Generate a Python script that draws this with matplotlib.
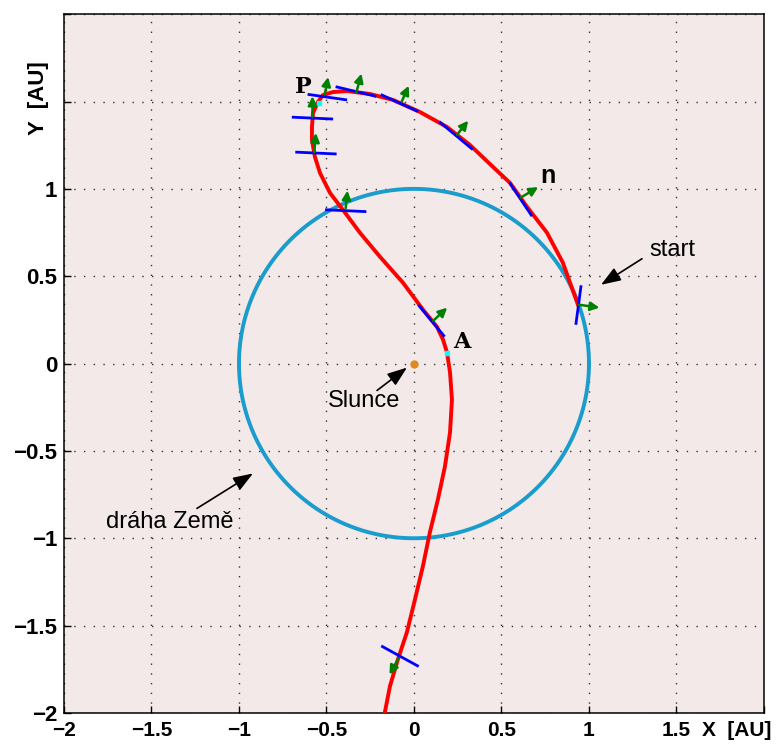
import numpy as np
import matplotlib.pyplot as plt

# trajectory of the probe (AU), in flight order: start -> P -> A -> out
traj_x = [0.937, 0.851, 0.760, 0.646, 0.549, 0.451, 0.320, 0.189, 0.034, -0.120,
          -0.251, -0.383, -0.463, -0.520, -0.549, -0.577, -0.583, -0.583, -0.566,
          -0.537, -0.480, -0.406, -0.309, -0.194, -0.063, 0.051, 0.131, 0.166,
          0.189, 0.206, 0.217, 0.206, 0.177, 0.137, 0.091, 0.051, 0.006, -0.040,
          -0.091, -0.137, -0.166]
traj_y = [0.337, 0.577, 0.749, 0.897, 1.034, 1.126, 1.251, 1.354, 1.440, 1.509,
          1.543, 1.560, 1.554, 1.537, 1.497, 1.434, 1.354, 1.280, 1.183,
          1.091, 0.977, 0.880, 0.749, 0.611, 0.463, 0.309, 0.211, 0.137,
          0.063, -0.051, -0.206, -0.394, -0.589, -0.777, -0.966, -1.160, -1.349, -1.537,
          -1.691, -1.846, -1.994]

# sail orientation segments (x0, y0, x1, y1)
sail_x0 = [0.954, 0.55, 0.15, -0.183, -0.44, -0.60, -0.69, -0.67, -0.50, 0.03, -0.18]
sail_y0 = [0.44, 1.03, 1.38, 1.537, 1.583, 1.54, 1.41, 1.21, 0.88, 0.33, -1.62]
sail_x1 = [0.926, 0.67, 0.33, 0.017, -0.223, -0.39, -0.47, -0.45, -0.28, 0.17, 0.02]
sail_y1 = [0.23, 0.85, 1.23, 1.446, 1.531, 1.51, 1.40, 1.20, 0.87, 0.16, -1.73]

# normal vectors n (base and tip)
norm_x0 = [0.94, 0.61, 0.246, -0.07, -0.33, -0.51, -0.58, -0.57, -0.39, 0.11, -0.09]
norm_y0 = [0.337, 0.95, 1.31, 1.50, 1.55, 1.54, 1.41, 1.21, 0.89, 0.245, -1.69]
norm_x1 = [1.06, 0.71, 0.31, -0.03, -0.30, -0.49, -0.58, -0.56, -0.38, 0.19, -0.14]
norm_y1 = [0.32, 1.01, 1.39, 1.59, 1.66, 1.64, 1.53, 1.32, 0.99, 0.32, -1.78]

ticks = [-2, -1.5, -1, -0.5, 0, 0.5, 1, 1.5, 2]
xlabels = ['\u22122', '\u22121.5', '\u22121', '\u22120.5', '0', '0.5', '1', '1.5', '']
ylabels = ['\u22122', '\u22121.5', '\u22121', '\u22120.5', '0', '0.5', '1', '', '']

plt.rcParams['font.family'] = ['Liberation Sans', 'DejaVu Sans']

fig = plt.figure(figsize=(7.83, 7.45), dpi=100)
ax = fig.add_axes([0.0817, 0.043, 0.894, 0.938])
ax.set_facecolor('#f3e9e9')

# Earth orbit
t = np.linspace(0, 2 * np.pi, 400)
ax.plot(np.cos(t), np.sin(t), color='#1a9ccc', lw=2.8, zorder=2)

# trajectory
ax.plot(traj_x, traj_y, color='red', lw=2.8, zorder=3,
        solid_joinstyle='round')

for i in range(len(sail_x0)):
    ax.plot([sail_x0[i], sail_x1[i]], [sail_y0[i], sail_y1[i]],
            color='blue', lw=2.0, zorder=4)
    ax.annotate('', xy=(norm_x1[i], norm_y1[i]), xytext=(norm_x0[i], norm_y0[i]),
                arrowprops=dict(arrowstyle='-|>', color='green', lw=1.8,
                                mutation_scale=13, shrinkA=0, shrinkB=0),
                zorder=5)

# Sun, perihelion and aphelion markers
ax.plot([0], [0], 'o', color='#e08a1e', ms=5, zorder=6)
ax.plot([-0.54], [1.49], 's', color='cyan', ms=3, zorder=6)
ax.plot([0.19], [0.06], 's', color='cyan', ms=3, zorder=6)

ax.text(-0.634, 1.583, 'P', fontsize=16, fontweight='bold',
        family='DejaVu Serif', ha='center', va='center')
ax.text(0.276, 0.124, 'A', fontsize=16, fontweight='bold',
        family='DejaVu Serif', ha='center', va='center')
ax.text(0.763, 1.071, 'n', fontsize=18, fontweight='bold', ha='center', va='center')

arrow = dict(arrowstyle='-|>,head_length=0.6,head_width=0.22', color='black',
             lw=1.2, mutation_scale=20, shrinkA=0, shrinkB=0)
ax.annotate('', xy=(1.069, 0.451), xytext=(1.303, 0.600), arrowprops=arrow)
ax.annotate('', xy=(-0.040, -0.023), xytext=(-0.211, -0.154), arrowprops=arrow)
ax.annotate('', xy=(-0.920, -0.629), xytext=(-1.240, -0.829), arrowprops=arrow)
ax.text(1.474, 0.617, 'start', fontsize=17, ha='center', va='baseline')
ax.text(-0.286, -0.251, 'Slunce', fontsize=17, ha='center', va='baseline')
ax.text(-1.394, -0.943, 'dr\u00e1ha Zem\u011b', fontsize=17, ha='center', va='baseline')

ax.set_xlim(-2, 2)
ax.set_ylim(-2, 2)
ax.set_xticks(ticks)
ax.set_yticks(ticks)
ax.set_xticklabels(xlabels, fontsize=15, fontweight='bold')
ax.set_yticklabels(ylabels, fontsize=16, fontweight='bold')
ax.tick_params(direction='in', length=5, width=1)
ax.tick_params(axis='x', pad=6)
ax.tick_params(axis='y', pad=5)
ax.grid(True, color='#333333', linestyle=(0, (1, 6)), lw=1.0)
for s in ax.spines.values():
    s.set_linewidth(1.1)

ax.text(1.646, -2.1, 'X  [AU]', fontsize=15, fontweight='bold',
        ha='left', va='center')
ax.text(-2.143, 1.52, 'Y  [AU]', fontsize=16, fontweight='bold',
        rotation=90, ha='center', va='center')

fig.savefig('out.png', dpi=100)
